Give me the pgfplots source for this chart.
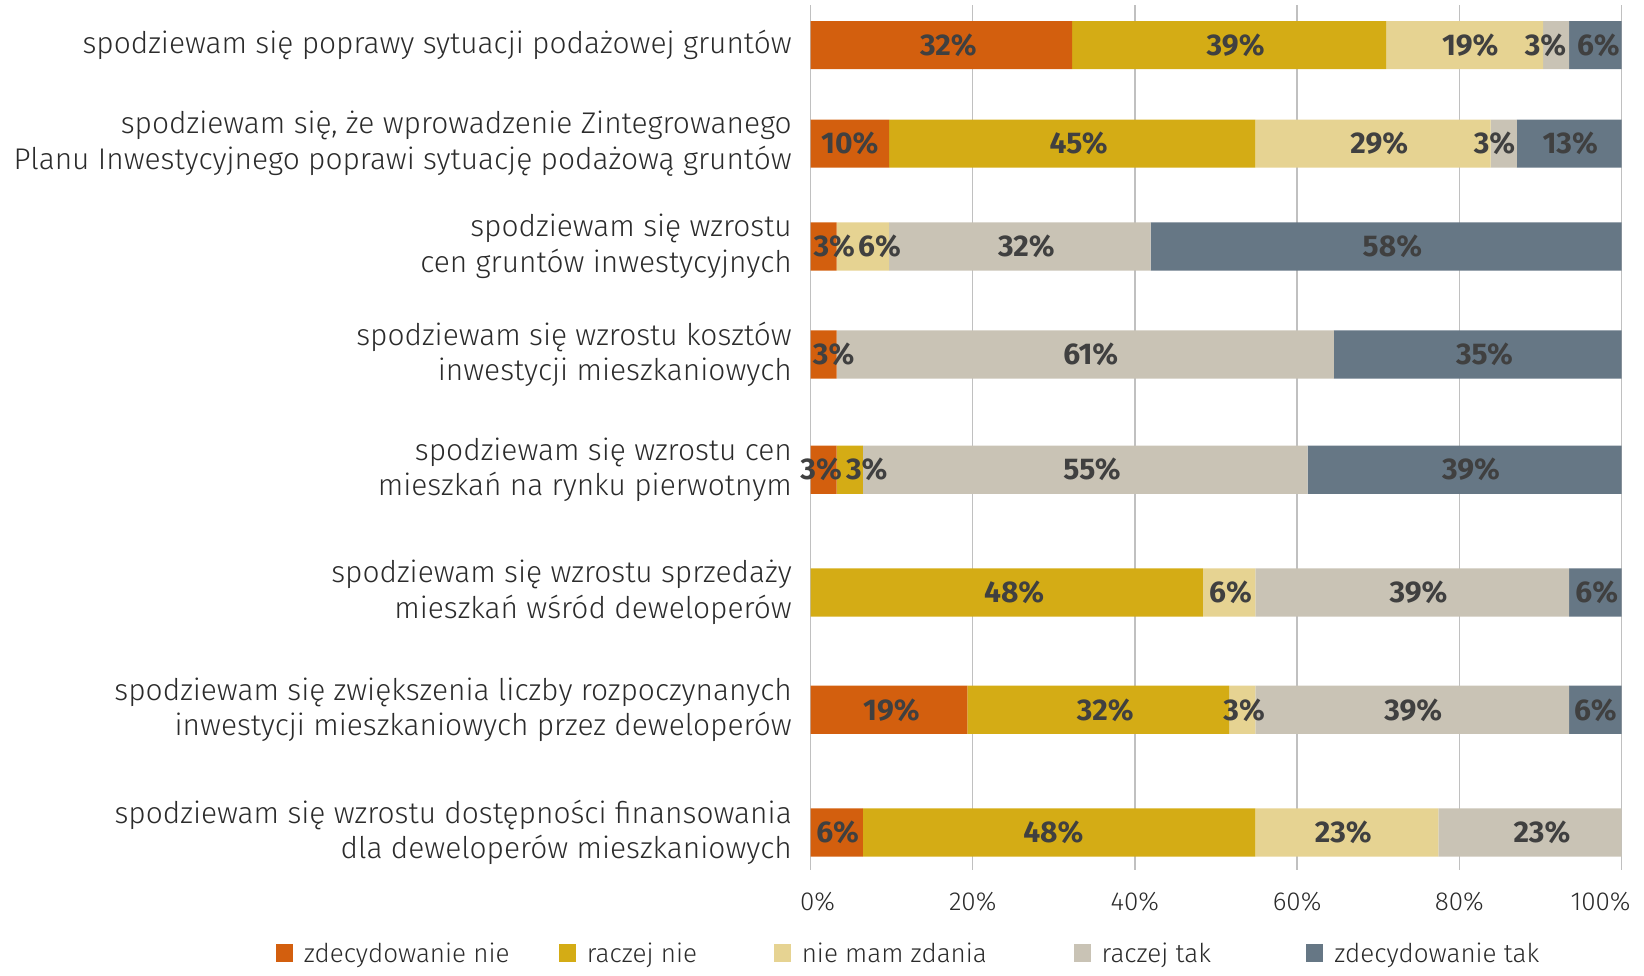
\documentclass[border=0pt]{standalone}
\usepackage{fontspec}
\setmainfont{Fira Sans}[UprightFont=* Light, BoldFont=* Bold]
\usepackage{pgfplots}
\usepackage{pgfplotstable}
\pgfplotsset{compat=1.18}

\definecolor{cZN}{HTML}{D35F0E}
\definecolor{cRN}{HTML}{D4AC15}
\definecolor{cNMZ}{HTML}{E6D392}
\definecolor{cRT}{HTML}{C9C3B5}
\definecolor{cZT}{HTML}{667785}
\definecolor{valtext}{HTML}{404040}
\definecolor{labtext}{HTML}{2B2B2B}
\definecolor{gridc}{HTML}{C0C0C0}

% share of answers in %, N = 31; pos = vertical position of each bar
\pgfplotstableread{
pos   zn     rn     nmz    rt     zt
45.1  32.26  38.71  19.35  3.23   6.45
143.6 9.68   45.16  29.03  3.23   12.90
246.4 3.23   0      6.45   32.26  58.06
354.4 3.23   0      0      61.29  35.48
469.7 3.23   3.23   0      54.84  38.71
592.4 0      48.39  6.45   38.71  6.45
709.8 19.35  32.26  3.23   38.71  6.45
832.5 6.45   48.39  22.58  22.58  0
}\answers

% horizontal nudge of each value label (pt), keeps narrow labels apart
\pgfplotstableread{
ozn   orn   onmz  ort   ozt
7     6.5   5.7   -10.6 3
0     6.5   6.3   -9.3  1
10.6  0     16.6  6.5   6.3
10    0     0     5.5   6.8
-2.5  17    0     6.8   6.3
0     7.4   1.4   6.3   1.4
2.5   7     2     1     0
1     -5.7  -3.5  12    0
}\nudge
\pgfplotstablecreatecol[copy column from table={\nudge}{ozn}]{ozn}{\answers}
\pgfplotstablecreatecol[copy column from table={\nudge}{orn}]{orn}{\answers}
\pgfplotstablecreatecol[copy column from table={\nudge}{onmz}]{onmz}{\answers}
\pgfplotstablecreatecol[copy column from table={\nudge}{ort}]{ort}{\answers}
\pgfplotstablecreatecol[copy column from table={\nudge}{ozt}]{ozt}{\answers}

\pgfplotsset{
  frame/.style={
    scale only axis, width=811pt, height=865pt,
    xmin=0, xmax=100, ymin=5, ymax=870, y dir=reverse,
    at={(810.5pt,970pt)}, anchor=north west,
  },
  vallab/.style={
    draw=none, mark=none, forget plot,
    nodes near coords={\pgfmathprintnumber[fixed,precision=0]{\pgfplotspointmeta}\%},
    nodes near coords align={center},
    every node near coord/.append style={anchor=center, inner sep=0pt,
      font=\fontsize{30}{30}\selectfont\bfseries, text=valtext},
    point meta=explicit,
  },
}

\begin{document}
\begin{tikzpicture}
\useasboundingbox (0,0) rectangle (1644pt,975pt);
\begin{axis}[frame,
  xbar stacked, bar width=48.2pt,
  axis line style={draw=none}, major tick length=0pt,
  xtick={0,20,40,60,80,100},
  xticklabels={{\makebox[0pt]{\hspace{14pt}0\%}},20\%,40\%,60\%,80\%,{\makebox[0pt]{\hspace{-42pt}100\%}}},
  xmajorgrids, grid style={gridc, line width=1.4pt},
  ytick=data,
  yticklabels={
    {spodziewam się poprawy sytuacji podażowej gruntów},
    {spodziewam się, że wprowadzenie Zintegrowanego\\Planu Inwestycyjnego poprawi sytuację podażową gruntów},
    {spodziewam się wzrostu\\cen gruntów inwestycyjnych},
    {spodziewam się wzrostu kosztów\\inwestycji mieszkaniowych},
    {spodziewam się wzrostu cen\\mieszkań na rynku pierwotnym},
    {spodziewam się wzrostu sprzedaży\\mieszkań wśród deweloperów},
    {spodziewam się zwiększenia liczby rozpoczynanych\\inwestycji mieszkaniowych przez deweloperów},
    {spodziewam się wzrostu dostępności finansowania\\dla deweloperów mieszkaniowych}},
  yticklabel style={align=right, inner sep=0pt, xshift=-18.5pt,
    font=\fontsize{29.9}{35.6}\selectfont, text=labtext},
  xticklabel style={anchor=base, yshift=-40pt, inner sep=0pt,
    font=\fontsize{26}{30}\selectfont, text=labtext},
  legend columns=5,
  legend image code/.code={\fill[#1] (0pt,-9pt) rectangle (17pt,9pt);},
  legend style={at={(-0.6593,-0.09595)}, anchor=west, draw=none,
    inner sep=0pt, outer sep=0pt, /tikz/column sep=0pt,
    nodes={inner sep=0pt, outer sep=0pt},
    font=\fontsize{26}{30}\selectfont, text=labtext},
  legend cell align=left,
]
\addplot[fill=cZN, draw=none] table[x=zn, y=pos] {\answers};
\addplot[fill=cRN, draw=none] table[x=rn, y=pos] {\answers};
\addplot[fill=cNMZ, draw=none] table[x=nmz, y=pos] {\answers};
\addplot[fill=cRT, draw=none] table[x=rt, y=pos] {\answers};
\addplot[fill=cZT, draw=none] table[x=zt, y=pos] {\answers};
\legend{
  \makebox[266.1pt][l]{\hspace{11pt}zdecydowanie nie},
  \makebox[197.9pt][l]{\hspace{11pt}raczej nie},
  \makebox[282.9pt][l]{\hspace{11pt}nie mam zdania},
  \makebox[215.7pt][l]{\hspace{11pt}raczej tak},
  \hspace{11pt}zdecydowanie tak}
\end{axis}

% value labels, centred in each segment (8.11pt per percentage point)
\begin{axis}[frame, hide axis, /pgf/number format/assume math mode=true]
\addplot[vallab, restrict expr to domain={\thisrow{zn}}{0.5:101}]
  table[x expr={\thisrow{zn}/2+\thisrow{ozn}/8.11}, y=pos, meta=zn] {\answers};
\addplot[vallab, restrict expr to domain={\thisrow{rn}}{0.5:101}]
  table[x expr={\thisrow{zn}+\thisrow{rn}/2+\thisrow{orn}/8.11}, y=pos, meta=rn] {\answers};
\addplot[vallab, restrict expr to domain={\thisrow{nmz}}{0.5:101}]
  table[x expr={\thisrow{zn}+\thisrow{rn}+\thisrow{nmz}/2+\thisrow{onmz}/8.11}, y=pos, meta=nmz] {\answers};
\addplot[vallab, restrict expr to domain={\thisrow{rt}}{0.5:101}]
  table[x expr={\thisrow{zn}+\thisrow{rn}+\thisrow{nmz}+\thisrow{rt}/2+\thisrow{ort}/8.11}, y=pos, meta=rt] {\answers};
\addplot[vallab, restrict expr to domain={\thisrow{zt}}{0.5:101}]
  table[x expr={\thisrow{zn}+\thisrow{rn}+\thisrow{nmz}+\thisrow{rt}+\thisrow{zt}/2+\thisrow{ozt}/8.11}, y=pos, meta=zt] {\answers};
\end{axis}
\end{tikzpicture}
\end{document}
